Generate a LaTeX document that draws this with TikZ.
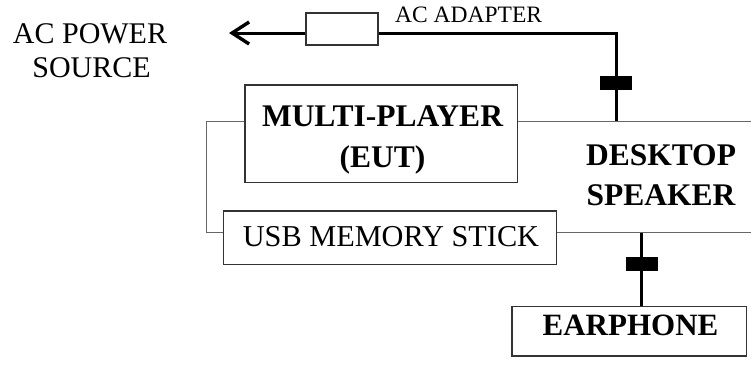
\documentclass[tikz,border=0pt]{standalone}
\usepackage{fontspec}
\setmainfont{Liberation Serif}
\usetikzlibrary{arrows.meta}
\begin{document}
\begin{tikzpicture}[x=1pt,y=-1pt,
  box/.style={draw=black!80, line width=1.4pt, fill=white, inner sep=0pt},
  frame/.style={draw=black!60, line width=1.3pt, inner sep=0pt},
  ferrite/.style={fill=black, draw=none, minimum width=32pt, minimum height=14pt, inner sep=0pt},
  cord/.style={line width=3pt},
  thincord/.style={line width=2.4pt},
  lbl/.style={inner sep=0pt, anchor=base},
  rm/.style={lbl, font=\fontsize{30}{34}\selectfont},
  bigb/.style={lbl, font=\fontsize{31.5}{38}\selectfont\bfseries}
]
\useasboundingbox (0,0) rectangle (751,367);

% speaker outline (extends past the right edge)
\node[frame, minimum width=570pt, minimum height=110.5pt, anchor=north west] (spk) at (206,121) {};

% boxes
\node[box, minimum width=272.5pt, minimum height=97.5pt] (mp) at (381.25,133.75) {};
\node[box, minimum width=333.4pt, minimum height=53.3pt] (usb) at (390,237.65) {};
\node[box, minimum width=234.7pt, minimum height=49.3pt] (ep) at (629.35,331.35) {};
\node[box, minimum width=72pt, minimum height=32pt] (ad) at (342,29) {};

% texts
\node[rm] (acp1) at (90,43.3) {AC POWER};
\node[rm] (acp2) at (91.5,77) {SOURCE};
\node[lbl, anchor=base west, font=\fontsize{23.5}{28}\selectfont] (adl) at (395,22.7) {AC ADAPTER};
\node[bigb] (mpt1) at (382.5,126.7) {MULTI-PLAYER};
\node[bigb] (mpt2) at (382.5,167) {(EUT)};
\node[bigb] (spt1) at (661,165) {DESKTOP};
\node[bigb] (spt2) at (661,205) {SPEAKER};
\node[rm, font=\fontsize{30.3}{34}\selectfont] (usbt) at (391,246.7) {USB MEMORY STICK};
\node[bigb, font=\fontsize{31}{38}\selectfont\bfseries] (ept) at (630.5,335) {EARPHONE};

% cords
\coordinate (src) at (229,33);
\node[ferrite] (f1) at (616,83) {};
\node[ferrite] (f2) at (641.5,264) {};
\draw[cord, -{Straight Barb[length=17pt, width=22pt, line width=3.4pt]}] (ad.west |- src) -- (src);
\draw[cord, line join=miter] (ad.east |- src) -| (f1.center) -- (f1 |- spk.north);
\draw[thincord] (f2 |- spk.south) -- (f2 |- ep.north);
\node[ferrite] at (f1) {};
\node[ferrite] at (f2) {};
\end{tikzpicture}
\end{document}
